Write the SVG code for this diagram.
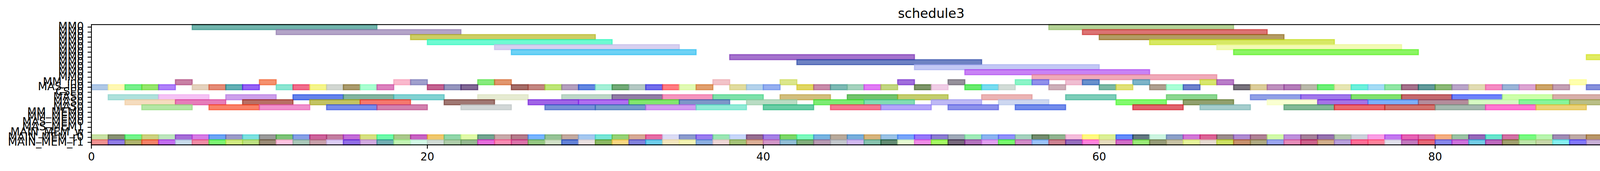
<svg xmlns="http://www.w3.org/2000/svg" width="4581" height="438" viewBox="0 0 4581 438">
<style>
.bars rect{fill:currentColor;stroke:currentColor;fill-opacity:.667;stroke-opacity:.667;stroke-width:2.78;vector-effect:non-scaling-stroke}
.lbl{font-family:"DejaVu Sans","Liberation Sans",sans-serif;font-size:27.78px;fill:#000}
.ylab{text-anchor:end}
.xlab{text-anchor:middle}
.title{font-family:"DejaVu Sans","Liberation Sans",sans-serif;font-size:33.33px;text-anchor:middle;fill:#000}
.tick{stroke:#000;stroke-width:2.22;fill:none}
</style>
<rect width="4581" height="438" fill="#fff"/>
<text class="title" x="2384" y="46">schedule3</text>
<g class="bars" id="bars">
<g id="row00-MM0" transform="translate(234,63) scale(43,1)">
<rect x="6" width="11" height="12.83" color="rgb(41,143,131)"/>
<rect x="57" width="11" height="12.83" color="rgb(143,188,98)"/>
</g>
<g id="row01-MM0" transform="translate(234,75.83) scale(43,1)">
<rect x="11" width="11" height="12.83" color="rgb(143,119,173)"/>
<rect x="59" width="11" height="12.83" color="rgb(203,45,45)"/>
</g>
<g id="row02-MM0" transform="translate(234,88.67) scale(43,1)">
<rect x="19" width="11" height="12.83" color="rgb(180,180,23)"/>
<rect x="60" width="11" height="12.83" color="rgb(143,105,23)"/>
</g>
<g id="row03-MM0" transform="translate(234,101.5) scale(43,1)">
<rect x="20" width="11" height="12.83" color="rgb(38,248,188)"/>
<rect x="63" width="11" height="12.83" color="rgb(195,221,23)"/>
</g>
<g id="row04-MM0" transform="translate(234,114.33) scale(43,1)">
<rect x="24" width="11" height="12.83" color="rgb(195,185,233)"/>
<rect x="67" width="11" height="12.83" color="rgb(236,248,143)"/>
</g>
<g id="row05-MM0" transform="translate(234,127.17) scale(43,1)">
<rect x="25" width="11" height="12.83" color="rgb(38,188,240)"/>
<rect x="68" width="11" height="12.83" color="rgb(83,240,23)"/>
</g>
<g id="row06-MM0" transform="translate(234,140) scale(43,1)">
<rect x="38" width="11" height="12.83" color="rgb(120,45,180)"/>
<rect x="89" width="11" height="12.83" color="rgb(210,225,23)"/>
</g>
<g id="row07-MM0" transform="translate(234,152.83) scale(43,1)">
<rect x="42" width="11" height="12.83" color="rgb(38,68,165)"/>
</g>
<g id="row08-MM0" transform="translate(234,165.67) scale(43,1)">
<rect x="49" width="11" height="12.83" color="rgb(165,173,240)"/>
</g>
<g id="row09-MM0" transform="translate(234,178.5) scale(43,1)">
<rect x="52" width="11" height="12.83" color="rgb(173,68,240)"/>
</g>
<g id="row10-MM0" transform="translate(234,191.33) scale(43,1)">
<rect x="56" width="11" height="12.83" color="rgb(233,128,150)"/>
</g>
<g id="row11-MM_in0" transform="translate(234,204.17) scale(43,1)">
<rect x="5" width="1" height="12.83" color="rgb(173,65,120)"/>
<rect x="10" width="1" height="12.83" color="rgb(240,90,38)"/>
<rect x="18" width="1" height="12.83" color="rgb(248,150,180)"/>
<rect x="19" width="1" height="12.83" color="rgb(113,113,180)"/>
<rect x="23" width="1" height="12.83" color="rgb(75,225,60)"/>
<rect x="24" width="1" height="12.83" color="rgb(210,98,38)"/>
<rect x="37" width="1" height="12.83" color="rgb(236,165,173)"/>
<rect x="41" width="1" height="12.83" color="rgb(203,218,83)"/>
<rect x="48" width="1" height="12.83" color="rgb(113,38,203)"/>
<rect x="51" width="1" height="12.83" color="rgb(98,90,105)"/>
<rect x="55" width="1" height="12.83" color="rgb(83,240,173)"/>
<rect x="56" width="1" height="12.83" color="rgb(90,90,225)"/>
<rect x="58" width="1" height="12.83" color="rgb(233,158,188)"/>
<rect x="59" width="1" height="12.83" color="rgb(30,90,180)"/>
<rect x="62" width="1" height="12.83" color="rgb(60,143,173)"/>
<rect x="66" width="1" height="12.83" color="rgb(195,218,38)"/>
<rect x="67" width="1" height="12.83" color="rgb(150,60,173)"/>
<rect x="88" width="1" height="12.83" color="rgb(255,255,135)"/>
</g>
<g id="row12-MAS_in0" transform="translate(234,217) scale(43,1)">
<rect x="0" width="1" height="12.83" color="rgb(137,173,218)"/>
<rect x="1" width="1" height="12.83" color="rgb(255,245,143)"/>
<rect x="2" width="1" height="12.83" color="rgb(53,233,83)"/>
<rect x="3" width="1" height="12.83" color="rgb(98,218,38)"/>
<rect x="4" width="1" height="12.83" color="rgb(135,68,248)"/>
<rect x="6" width="1" height="12.83" color="rgb(215,188,158)"/>
<rect x="7" width="1" height="12.83" color="rgb(215,83,53)"/>
<rect x="8" width="1" height="12.83" color="rgb(23,135,143)"/>
<rect x="9" width="1" height="12.83" color="rgb(98,23,240)"/>
<rect x="11" width="1" height="12.83" color="rgb(83,218,188)"/>
<rect x="12" width="1" height="12.83" color="rgb(233,38,83)"/>
<rect x="13" width="1" height="12.83" color="rgb(240,240,83)"/>
<rect x="14" width="1" height="12.83" color="rgb(188,195,188)"/>
<rect x="15" width="1" height="12.83" color="rgb(128,105,38)"/>
<rect x="16" width="1" height="12.83" color="rgb(128,255,188)"/>
<rect x="17" width="1" height="12.83" color="rgb(203,68,158)"/>
<rect x="20" width="1" height="12.83" color="rgb(165,23,90)"/>
<rect x="21" width="1" height="12.83" color="rgb(98,98,158)"/>
<rect x="22" width="1" height="12.83" color="rgb(68,30,98)"/>
<rect x="25" width="1" height="12.83" color="rgb(120,38,30)"/>
<rect x="26" width="1" height="12.83" color="rgb(165,75,68)"/>
<rect x="27" width="1" height="12.83" color="rgb(158,218,53)"/>
<rect x="28" width="1" height="12.83" color="rgb(143,113,158)"/>
<rect x="29" width="1" height="12.83" color="rgb(23,75,210)"/>
<rect x="30" width="1" height="12.83" color="rgb(120,233,195)"/>
<rect x="31" width="1" height="12.83" color="rgb(45,128,53)"/>
<rect x="32" width="1" height="12.83" color="rgb(143,173,165)"/>
<rect x="33" width="1" height="12.83" color="rgb(45,38,225)"/>
<rect x="34" width="1" height="12.83" color="rgb(255,60,68)"/>
<rect x="35" width="1" height="12.83" color="rgb(210,248,143)"/>
<rect x="36" width="1" height="12.83" color="rgb(210,113,38)"/>
<rect x="38" width="1" height="12.83" color="rgb(210,203,113)"/>
<rect x="39" width="1" height="12.83" color="rgb(143,188,225)"/>
<rect x="40" width="1" height="12.83" color="rgb(98,135,233)"/>
<rect x="42" width="1" height="12.83" color="rgb(210,195,23)"/>
<rect x="43" width="1" height="12.83" color="rgb(173,83,128)"/>
<rect x="44" width="1" height="12.83" color="rgb(60,150,143)"/>
<rect x="45" width="1" height="12.83" color="rgb(120,188,158)"/>
<rect x="46" width="1" height="12.83" color="rgb(210,60,240)"/>
<rect x="47" width="1" height="12.83" color="rgb(165,195,68)"/>
<rect x="49" width="1" height="12.83" color="rgb(60,98,30)"/>
<rect x="50" width="1" height="12.83" color="rgb(233,180,218)"/>
<rect x="52" width="1" height="12.83" color="rgb(30,225,38)"/>
<rect x="53" width="1" height="12.83" color="rgb(53,203,233)"/>
<rect x="54" width="1" height="12.83" color="rgb(188,203,195)"/>
<rect x="57" width="1" height="12.83" color="rgb(180,135,150)"/>
<rect x="60" width="1" height="12.83" color="rgb(60,150,120)"/>
<rect x="61" width="1" height="12.83" color="rgb(210,210,53)"/>
<rect x="63" width="1" height="12.83" color="rgb(135,113,90)"/>
<rect x="64" width="1" height="12.83" color="rgb(128,255,195)"/>
<rect x="65" width="1" height="12.83" color="rgb(38,68,180)"/>
<rect x="68" width="1" height="12.83" color="rgb(53,45,60)"/>
<rect x="69" width="1" height="12.83" color="rgb(203,180,105)"/>
<rect x="70" width="1" height="12.83" color="rgb(158,90,158)"/>
<rect x="71" width="1" height="12.83" color="rgb(143,60,150)"/>
<rect x="72" width="1" height="12.83" color="rgb(150,150,128)"/>
<rect x="73" width="1" height="12.83" color="rgb(38,233,53)"/>
<rect x="74" width="1" height="12.83" color="rgb(218,218,143)"/>
<rect x="75" width="1" height="12.83" color="rgb(38,233,203)"/>
<rect x="76" width="1" height="12.83" color="rgb(120,203,240)"/>
<rect x="77" width="1" height="12.83" color="rgb(90,218,120)"/>
<rect x="78" width="1" height="12.83" color="rgb(120,45,83)"/>
<rect x="79" width="1" height="12.83" color="rgb(23,105,105)"/>
<rect x="80" width="1" height="12.83" color="rgb(83,150,53)"/>
<rect x="81" width="1" height="12.83" color="rgb(150,120,173)"/>
<rect x="82" width="1" height="12.83" color="rgb(210,203,143)"/>
<rect x="83" width="1" height="12.83" color="rgb(240,83,165)"/>
<rect x="84" width="1" height="12.83" color="rgb(105,143,195)"/>
<rect x="85" width="1" height="12.83" color="rgb(203,120,188)"/>
<rect x="86" width="1" height="12.83" color="rgb(180,120,30)"/>
<rect x="87" width="1" height="12.83" color="rgb(165,113,143)"/>
<rect x="89" width="1" height="12.83" color="rgb(75,90,203)"/>
<rect x="90" width="1" height="12.83" color="rgb(135,135,248)"/>
<rect x="91" width="1" height="12.83" color="rgb(38,233,218)"/>
<rect x="92" width="1" height="12.83" color="rgb(158,38,233)"/>
<rect x="93" width="1" height="12.83" color="rgb(128,135,248)"/>
<rect x="94" width="1" height="12.83" color="rgb(120,105,173)"/>
<rect x="95" width="1" height="12.83" color="rgb(210,98,158)"/>
</g>
<g id="row14-MAS0" transform="translate(234,242.67) scale(43,1)">
<rect x="1" width="3" height="12.83" color="rgb(135,210,203)"/>
<rect x="4" width="3" height="12.83" color="rgb(240,165,240)"/>
<rect x="8" width="3" height="12.83" color="rgb(180,113,225)"/>
<rect x="12" width="3" height="12.83" color="rgb(23,68,225)"/>
<rect x="15" width="3" height="12.83" color="rgb(68,143,113)"/>
<rect x="18" width="3" height="12.83" color="rgb(68,188,188)"/>
<rect x="23" width="3" height="12.83" color="rgb(218,225,188)"/>
<rect x="28" width="3" height="12.83" color="rgb(158,195,173)"/>
<rect x="31" width="3" height="12.83" color="rgb(90,60,120)"/>
<rect x="34" width="3" height="12.83" color="rgb(240,98,158)"/>
<rect x="37" width="3" height="12.83" color="rgb(60,210,128)"/>
<rect x="41" width="3" height="12.83" color="rgb(188,158,60)"/>
<rect x="45" width="3" height="12.83" color="rgb(45,165,38)"/>
<rect x="48" width="3" height="12.83" color="rgb(165,180,38)"/>
<rect x="53" width="3" height="12.83" color="rgb(225,143,143)"/>
<rect x="58" width="3" height="12.83" color="rgb(60,180,150)"/>
<rect x="64" width="3" height="12.83" color="rgb(83,195,90)"/>
<rect x="69" width="3" height="12.83" color="rgb(90,113,218)"/>
<rect x="72" width="3" height="12.83" color="rgb(113,53,225)"/>
<rect x="75" width="3" height="12.83" color="rgb(68,210,38)"/>
<rect x="78" width="3" height="12.83" color="rgb(165,30,38)"/>
<rect x="81" width="3" height="12.83" color="rgb(38,68,248)"/>
<rect x="84" width="3" height="12.83" color="rgb(180,255,128)"/>
<rect x="87" width="3" height="12.83" color="rgb(195,135,128)"/>
<rect x="91" width="3" height="12.83" color="rgb(60,173,150)"/>
<rect x="94" width="3" height="12.83" color="rgb(105,105,203)"/>
</g>
<g id="row15-MAS0" transform="translate(234,255.5) scale(43,1)">
<rect x="2" width="3" height="12.83" color="rgb(240,203,158)"/>
<rect x="5" width="3" height="12.83" color="rgb(218,60,150)"/>
<rect x="9" width="3" height="12.83" color="rgb(150,38,23)"/>
<rect x="13" width="3" height="12.83" color="rgb(165,165,23)"/>
<rect x="16" width="3" height="12.83" color="rgb(240,53,38)"/>
<rect x="21" width="3" height="12.83" color="rgb(113,53,45)"/>
<rect x="26" width="3" height="12.83" color="rgb(113,23,218)"/>
<rect x="29" width="3" height="12.83" color="rgb(135,38,233)"/>
<rect x="32" width="3" height="12.83" color="rgb(68,218,38)"/>
<rect x="35" width="3" height="12.83" color="rgb(60,98,173)"/>
<rect x="39" width="3" height="12.83" color="rgb(150,203,165)"/>
<rect x="43" width="3" height="12.83" color="rgb(60,225,45)"/>
<rect x="46" width="3" height="12.83" color="rgb(68,203,143)"/>
<rect x="50" width="3" height="12.83" color="rgb(158,150,240)"/>
<rect x="54" width="3" height="12.83" color="rgb(180,195,233)"/>
<rect x="61" width="3" height="12.83" color="rgb(68,248,38)"/>
<rect x="65" width="3" height="12.83" color="rgb(90,113,38)"/>
<rect x="70" width="3" height="12.83" color="rgb(248,255,188)"/>
<rect x="73" width="3" height="12.83" color="rgb(120,45,218)"/>
<rect x="76" width="3" height="12.83" color="rgb(60,135,248)"/>
<rect x="79" width="3" height="12.83" color="rgb(143,83,105)"/>
<rect x="82" width="3" height="12.83" color="rgb(195,248,165)"/>
<rect x="85" width="3" height="12.83" color="rgb(75,240,105)"/>
<rect x="88" width="3" height="12.83" color="rgb(150,158,75)"/>
<rect x="92" width="3" height="12.83" color="rgb(165,75,203)"/>
<rect x="95" width="3" height="12.83" color="rgb(143,143,113)"/>
</g>
<g id="row16-MAS0" transform="translate(234,268.33) scale(43,1)">
<rect x="3" width="3" height="12.83" color="rgb(143,218,120)"/>
<rect x="7" width="3" height="12.83" color="rgb(248,68,30)"/>
<rect x="10" width="3" height="12.83" color="rgb(233,90,180)"/>
<rect x="14" width="3" height="12.83" color="rgb(53,83,225)"/>
<rect x="17" width="3" height="12.83" color="rgb(188,68,135)"/>
<rect x="22" width="3" height="12.83" color="rgb(188,195,195)"/>
<rect x="27" width="3" height="12.83" color="rgb(53,90,195)"/>
<rect x="30" width="3" height="12.83" color="rgb(53,105,180)"/>
<rect x="33" width="3" height="12.83" color="rgb(188,105,233)"/>
<rect x="36" width="3" height="12.83" color="rgb(90,225,195)"/>
<rect x="40" width="3" height="12.83" color="rgb(30,180,120)"/>
<rect x="44" width="3" height="12.83" color="rgb(240,53,90)"/>
<rect x="47" width="3" height="12.83" color="rgb(143,120,248)"/>
<rect x="51" width="3" height="12.83" color="rgb(83,90,225)"/>
<rect x="55" width="3" height="12.83" color="rgb(45,83,225)"/>
<rect x="62" width="3" height="12.83" color="rgb(210,23,38)"/>
<rect x="66" width="3" height="12.83" color="rgb(120,180,180)"/>
<rect x="71" width="3" height="12.83" color="rgb(68,150,98)"/>
<rect x="74" width="3" height="12.83" color="rgb(225,30,38)"/>
<rect x="77" width="3" height="12.83" color="rgb(188,45,38)"/>
<rect x="80" width="3" height="12.83" color="rgb(120,150,135)"/>
<rect x="83" width="3" height="12.83" color="rgb(255,53,188)"/>
<rect x="86" width="3" height="12.83" color="rgb(225,188,53)"/>
<rect x="90" width="3" height="12.83" color="rgb(128,113,195)"/>
<rect x="93" width="3" height="12.83" color="rgb(53,53,188)"/>
<rect x="96" width="3" height="12.83" color="rgb(210,38,113)"/>
</g>
<g id="row22-MAIN_MEM_r0" transform="translate(234,345.33) scale(43,1)">
<rect x="0" width="1" height="12.83" color="rgb(173,210,120)"/>
<rect x="1" width="1" height="12.83" color="rgb(75,90,45)"/>
<rect x="2" width="1" height="12.83" color="rgb(45,240,83)"/>
<rect x="3" width="1" height="12.83" color="rgb(180,188,68)"/>
<rect x="4" width="1" height="12.83" color="rgb(158,218,158)"/>
<rect x="5" width="1" height="12.83" color="rgb(120,38,195)"/>
<rect x="6" width="1" height="12.83" color="rgb(195,60,218)"/>
<rect x="7" width="1" height="12.83" color="rgb(38,120,240)"/>
<rect x="8" width="1" height="12.83" color="rgb(105,105,173)"/>
<rect x="9" width="1" height="12.83" color="rgb(60,210,210)"/>
<rect x="10" width="1" height="12.83" color="rgb(105,105,105)"/>
<rect x="11" width="1" height="12.83" color="rgb(60,165,53)"/>
<rect x="12" width="1" height="12.83" color="rgb(75,113,218)"/>
<rect x="13" width="1" height="12.83" color="rgb(180,23,105)"/>
<rect x="14" width="1" height="12.83" color="rgb(165,60,113)"/>
<rect x="15" width="1" height="12.83" color="rgb(165,38,195)"/>
<rect x="16" width="1" height="12.83" color="rgb(195,210,68)"/>
<rect x="17" width="1" height="12.83" color="rgb(38,248,128)"/>
<rect x="18" width="1" height="12.83" color="rgb(128,173,83)"/>
<rect x="19" width="1" height="12.83" color="rgb(173,23,165)"/>
<rect x="20" width="1" height="12.83" color="rgb(233,173,38)"/>
<rect x="21" width="1" height="12.83" color="rgb(90,195,128)"/>
<rect x="22" width="1" height="12.83" color="rgb(210,248,128)"/>
<rect x="23" width="1" height="12.83" color="rgb(45,120,90)"/>
<rect x="24" width="1" height="12.83" color="rgb(173,128,128)"/>
<rect x="25" width="1" height="12.83" color="rgb(143,60,83)"/>
<rect x="26" width="1" height="12.83" color="rgb(53,143,255)"/>
<rect x="27" width="1" height="12.83" color="rgb(98,165,98)"/>
<rect x="28" width="1" height="12.83" color="rgb(165,128,113)"/>
<rect x="29" width="1" height="12.83" color="rgb(120,173,233)"/>
<rect x="30" width="1" height="12.83" color="rgb(53,218,195)"/>
<rect x="31" width="1" height="12.83" color="rgb(98,188,53)"/>
<rect x="32" width="1" height="12.83" color="rgb(195,128,98)"/>
<rect x="33" width="1" height="12.83" color="rgb(218,38,120)"/>
<rect x="34" width="1" height="12.83" color="rgb(203,203,240)"/>
<rect x="35" width="1" height="12.83" color="rgb(83,105,180)"/>
<rect x="36" width="1" height="12.83" color="rgb(105,60,233)"/>
<rect x="37" width="1" height="12.83" color="rgb(105,218,143)"/>
<rect x="38" width="1" height="12.83" color="rgb(173,195,248)"/>
<rect x="39" width="1" height="12.83" color="rgb(98,38,90)"/>
<rect x="40" width="1" height="12.83" color="rgb(120,68,218)"/>
<rect x="41" width="1" height="12.83" color="rgb(60,195,30)"/>
<rect x="42" width="1" height="12.83" color="rgb(60,248,158)"/>
<rect x="43" width="1" height="12.83" color="rgb(53,143,210)"/>
<rect x="44" width="1" height="12.83" color="rgb(150,128,105)"/>
<rect x="45" width="1" height="12.83" color="rgb(53,135,203)"/>
<rect x="46" width="1" height="12.83" color="rgb(195,143,60)"/>
<rect x="47" width="1" height="12.83" color="rgb(105,165,218)"/>
<rect x="48" width="1" height="12.83" color="rgb(53,120,248)"/>
<rect x="49" width="1" height="12.83" color="rgb(98,53,248)"/>
<rect x="50" width="1" height="12.83" color="rgb(83,60,188)"/>
<rect x="51" width="1" height="12.83" color="rgb(113,128,150)"/>
<rect x="52" width="1" height="12.83" color="rgb(113,225,150)"/>
<rect x="53" width="1" height="12.83" color="rgb(83,143,233)"/>
<rect x="54" width="1" height="12.83" color="rgb(90,90,248)"/>
<rect x="55" width="1" height="12.83" color="rgb(120,188,158)"/>
<rect x="56" width="1" height="12.83" color="rgb(45,83,38)"/>
<rect x="57" width="1" height="12.83" color="rgb(90,143,90)"/>
<rect x="58" width="1" height="12.83" color="rgb(240,158,203)"/>
<rect x="59" width="1" height="12.83" color="rgb(255,248,68)"/>
<rect x="60" width="1" height="12.83" color="rgb(203,233,98)"/>
<rect x="61" width="1" height="12.83" color="rgb(23,83,248)"/>
<rect x="62" width="1" height="12.83" color="rgb(23,53,68)"/>
<rect x="63" width="1" height="12.83" color="rgb(180,240,210)"/>
<rect x="64" width="1" height="12.83" color="rgb(83,113,173)"/>
<rect x="65" width="1" height="12.83" color="rgb(188,53,195)"/>
<rect x="66" width="1" height="12.83" color="rgb(203,23,98)"/>
<rect x="67" width="1" height="12.83" color="rgb(105,83,83)"/>
<rect x="68" width="1" height="12.83" color="rgb(135,83,188)"/>
<rect x="69" width="1" height="12.83" color="rgb(135,68,98)"/>
<rect x="70" width="1" height="12.83" color="rgb(188,248,128)"/>
<rect x="71" width="1" height="12.83" color="rgb(158,90,203)"/>
<rect x="72" width="1" height="12.83" color="rgb(120,68,105)"/>
<rect x="73" width="1" height="12.83" color="rgb(98,45,135)"/>
<rect x="74" width="1" height="12.83" color="rgb(143,173,135)"/>
<rect x="75" width="1" height="12.83" color="rgb(180,188,203)"/>
<rect x="76" width="1" height="12.83" color="rgb(248,113,218)"/>
<rect x="77" width="1" height="12.83" color="rgb(165,53,233)"/>
<rect x="78" width="1" height="12.83" color="rgb(218,23,143)"/>
<rect x="79" width="1" height="12.83" color="rgb(203,60,143)"/>
<rect x="80" width="1" height="12.83" color="rgb(240,135,68)"/>
<rect x="81" width="1" height="12.83" color="rgb(105,165,120)"/>
<rect x="82" width="1" height="12.83" color="rgb(98,30,150)"/>
<rect x="83" width="1" height="12.83" color="rgb(30,218,180)"/>
<rect x="84" width="1" height="12.83" color="rgb(188,45,120)"/>
<rect x="85" width="1" height="12.83" color="rgb(53,248,68)"/>
<rect x="86" width="1" height="12.83" color="rgb(150,240,135)"/>
<rect x="87" width="1" height="12.83" color="rgb(113,83,143)"/>
<rect x="88" width="1" height="12.83" color="rgb(158,128,120)"/>
<rect x="89" width="1" height="12.83" color="rgb(150,98,30)"/>
<rect x="90" width="1" height="12.83" color="rgb(128,150,113)"/>
<rect x="91" width="1" height="12.83" color="rgb(210,38,225)"/>
<rect x="92" width="1" height="12.83" color="rgb(120,75,53)"/>
<rect x="93" width="1" height="12.83" color="rgb(120,113,60)"/>
<rect x="94" width="1" height="12.83" color="rgb(113,210,210)"/>
<rect x="95" width="1" height="12.83" color="rgb(255,218,113)"/>
</g>
<g id="row23-MAIN_MEM_r1" transform="translate(234,358.17) scale(43,1)">
<rect x="0" width="1" height="12.83" color="rgb(233,90,90)"/>
<rect x="1" width="1" height="12.83" color="rgb(90,60,218)"/>
<rect x="2" width="1" height="12.83" color="rgb(135,143,38)"/>
<rect x="3" width="1" height="12.83" color="rgb(240,68,30)"/>
<rect x="4" width="1" height="12.83" color="rgb(165,38,233)"/>
<rect x="5" width="1" height="12.83" color="rgb(173,203,225)"/>
<rect x="6" width="1" height="12.83" color="rgb(233,83,120)"/>
<rect x="7" width="1" height="12.83" color="rgb(60,240,45)"/>
<rect x="8" width="1" height="12.83" color="rgb(188,225,68)"/>
<rect x="9" width="1" height="12.83" color="rgb(158,210,68)"/>
<rect x="10" width="1" height="12.83" color="rgb(105,83,53)"/>
<rect x="11" width="1" height="12.83" color="rgb(255,165,210)"/>
<rect x="12" width="1" height="12.83" color="rgb(128,173,150)"/>
<rect x="13" width="1" height="12.83" color="rgb(173,113,128)"/>
<rect x="14" width="1" height="12.83" color="rgb(203,180,240)"/>
<rect x="15" width="1" height="12.83" color="rgb(90,38,218)"/>
<rect x="16" width="1" height="12.83" color="rgb(188,128,210)"/>
<rect x="17" width="1" height="12.83" color="rgb(45,135,143)"/>
<rect x="18" width="1" height="12.83" color="rgb(165,240,143)"/>
<rect x="19" width="1" height="12.83" color="rgb(188,248,218)"/>
<rect x="20" width="1" height="12.83" color="rgb(188,203,195)"/>
<rect x="21" width="1" height="12.83" color="rgb(135,180,128)"/>
<rect x="22" width="1" height="12.83" color="rgb(98,150,90)"/>
<rect x="23" width="1" height="12.83" color="rgb(218,38,203)"/>
<rect x="24" width="1" height="12.83" color="rgb(248,83,143)"/>
<rect x="25" width="1" height="12.83" color="rgb(203,45,128)"/>
<rect x="26" width="1" height="12.83" color="rgb(98,173,68)"/>
<rect x="27" width="1" height="12.83" color="rgb(188,210,173)"/>
<rect x="28" width="1" height="12.83" color="rgb(23,68,195)"/>
<rect x="29" width="1" height="12.83" color="rgb(225,210,210)"/>
<rect x="30" width="1" height="12.83" color="rgb(83,150,23)"/>
<rect x="31" width="1" height="12.83" color="rgb(248,195,68)"/>
<rect x="32" width="1" height="12.83" color="rgb(68,68,203)"/>
<rect x="33" width="1" height="12.83" color="rgb(38,180,225)"/>
<rect x="34" width="1" height="12.83" color="rgb(240,218,158)"/>
<rect x="35" width="1" height="12.83" color="rgb(240,240,143)"/>
<rect x="36" width="1" height="12.83" color="rgb(83,135,210)"/>
<rect x="37" width="1" height="12.83" color="rgb(233,195,195)"/>
<rect x="38" width="1" height="12.83" color="rgb(120,165,53)"/>
<rect x="39" width="1" height="12.83" color="rgb(203,135,98)"/>
<rect x="40" width="1" height="12.83" color="rgb(188,98,173)"/>
<rect x="41" width="1" height="12.83" color="rgb(90,158,195)"/>
<rect x="42" width="1" height="12.83" color="rgb(68,135,60)"/>
<rect x="43" width="1" height="12.83" color="rgb(150,105,143)"/>
<rect x="44" width="1" height="12.83" color="rgb(165,173,180)"/>
<rect x="45" width="1" height="12.83" color="rgb(188,150,233)"/>
<rect x="46" width="1" height="12.83" color="rgb(75,165,135)"/>
<rect x="47" width="1" height="12.83" color="rgb(23,83,45)"/>
<rect x="48" width="1" height="12.83" color="rgb(218,248,188)"/>
<rect x="49" width="1" height="12.83" color="rgb(233,83,218)"/>
<rect x="50" width="1" height="12.83" color="rgb(120,248,23)"/>
<rect x="51" width="1" height="12.83" color="rgb(53,30,60)"/>
<rect x="52" width="1" height="12.83" color="rgb(143,45,158)"/>
<rect x="53" width="1" height="12.83" color="rgb(210,113,233)"/>
<rect x="54" width="1" height="12.83" color="rgb(53,248,38)"/>
<rect x="55" width="1" height="12.83" color="rgb(188,83,173)"/>
<rect x="56" width="1" height="12.83" color="rgb(105,165,248)"/>
<rect x="57" width="1" height="12.83" color="rgb(180,68,90)"/>
<rect x="58" width="1" height="12.83" color="rgb(98,38,158)"/>
<rect x="59" width="1" height="12.83" color="rgb(255,68,203)"/>
<rect x="60" width="1" height="12.83" color="rgb(218,203,158)"/>
<rect x="61" width="1" height="12.83" color="rgb(188,38,173)"/>
<rect x="62" width="1" height="12.83" color="rgb(105,225,53)"/>
<rect x="63" width="1" height="12.83" color="rgb(98,105,53)"/>
<rect x="64" width="1" height="12.83" color="rgb(173,165,120)"/>
<rect x="65" width="1" height="12.83" color="rgb(218,240,105)"/>
<rect x="66" width="1" height="12.83" color="rgb(218,203,188)"/>
<rect x="67" width="1" height="12.83" color="rgb(180,210,23)"/>
<rect x="68" width="1" height="12.83" color="rgb(173,90,38)"/>
<rect x="69" width="1" height="12.83" color="rgb(135,128,68)"/>
<rect x="70" width="1" height="12.83" color="rgb(105,120,233)"/>
<rect x="71" width="1" height="12.83" color="rgb(218,83,150)"/>
<rect x="72" width="1" height="12.83" color="rgb(180,23,83)"/>
<rect x="73" width="1" height="12.83" color="rgb(188,135,83)"/>
<rect x="74" width="1" height="12.83" color="rgb(150,113,203)"/>
<rect x="75" width="1" height="12.83" color="rgb(255,38,98)"/>
<rect x="76" width="1" height="12.83" color="rgb(255,68,105)"/>
<rect x="77" width="1" height="12.83" color="rgb(210,210,225)"/>
<rect x="78" width="1" height="12.83" color="rgb(165,53,158)"/>
<rect x="79" width="1" height="12.83" color="rgb(218,30,53)"/>
<rect x="80" width="1" height="12.83" color="rgb(75,75,225)"/>
<rect x="81" width="1" height="12.83" color="rgb(180,45,203)"/>
<rect x="82" width="1" height="12.83" color="rgb(45,180,218)"/>
<rect x="83" width="1" height="12.83" color="rgb(158,30,158)"/>
<rect x="84" width="1" height="12.83" color="rgb(113,113,38)"/>
<rect x="85" width="1" height="12.83" color="rgb(158,218,128)"/>
<rect x="86" width="1" height="12.83" color="rgb(173,195,128)"/>
<rect x="87" width="1" height="12.83" color="rgb(75,233,233)"/>
<rect x="88" width="1" height="12.83" color="rgb(68,53,248)"/>
<rect x="89" width="1" height="12.83" color="rgb(173,135,195)"/>
<rect x="90" width="1" height="12.83" color="rgb(38,83,233)"/>
<rect x="91" width="1" height="12.83" color="rgb(255,53,68)"/>
<rect x="92" width="1" height="12.83" color="rgb(158,173,23)"/>
<rect x="93" width="1" height="12.83" color="rgb(113,188,38)"/>
<rect x="94" width="1" height="12.83" color="rgb(135,83,143)"/>
<rect x="95" width="1" height="12.83" color="rgb(113,75,158)"/>
</g>
</g>
<g id="axes">
<rect x="234" y="63" width="4300" height="308" fill="none" stroke="#000" stroke-width="2.22"/>
<path class="tick" d="M224.28 69.42h9.72M224.28 82.25h9.72M224.28 95.08h9.72M224.28 107.92h9.72M224.28 120.75h9.72M224.28 133.58h9.72M224.28 146.42h9.72M224.28 159.25h9.72M224.28 172.08h9.72M224.28 184.92h9.72M224.28 197.75h9.72M224.28 210.58h9.72M224.28 223.42h9.72M224.28 236.25h9.72M224.28 249.08h9.72M224.28 261.92h9.72M224.28 274.75h9.72M224.28 287.58h9.72M224.28 300.42h9.72M224.28 313.25h9.72M224.28 326.08h9.72M224.28 338.92h9.72M224.28 351.75h9.72M224.28 364.58h9.72"/>
<path class="tick" d="M234 371v9.72M1094 371v9.72M1954 371v9.72M2814 371v9.72M3674 371v9.72M4534 371v9.72"/>
</g>
<g id="ylabels" class="lbl ylab">
<text x="214.56" y="77.42">MM0</text>
<text x="214.56" y="90.25">MM0</text>
<text x="214.56" y="103.08">MM0</text>
<text x="214.56" y="115.92">MM0</text>
<text x="214.56" y="128.75">MM0</text>
<text x="214.56" y="141.58">MM0</text>
<text x="214.56" y="154.42">MM0</text>
<text x="214.56" y="167.25">MM0</text>
<text x="214.56" y="180.08">MM0</text>
<text x="214.56" y="192.92">MM0</text>
<text x="214.56" y="205.75">MM0</text>
<text x="214.56" y="218.58">MM_in0</text>
<text x="214.56" y="231.42">MAS_in0</text>
<text x="214.56" y="244.25">CSE0</text>
<text x="214.56" y="257.08">MAS0</text>
<text x="214.56" y="269.92">MAS0</text>
<text x="214.56" y="282.75">MAS0</text>
<text x="214.56" y="295.58">MM_MEM0</text>
<text x="214.56" y="308.42">MM_MEM0</text>
<text x="214.56" y="321.25">MAS_MEM0</text>
<text x="214.56" y="334.08">MAS_MEM1</text>
<text x="214.56" y="346.92">MAIN_MEM_w</text>
<text x="214.56" y="359.75">MAIN_MEM_r0</text>
<text x="214.56" y="372.58">MAIN_MEM_r1</text>
</g>
<g id="xlabels" class="lbl xlab">
<text x="234" y="411">0</text>
<text x="1094" y="411">20</text>
<text x="1954" y="411">40</text>
<text x="2814" y="411">60</text>
<text x="3674" y="411">80</text>
<text x="4534" y="411">100</text>
</g>
</svg>
